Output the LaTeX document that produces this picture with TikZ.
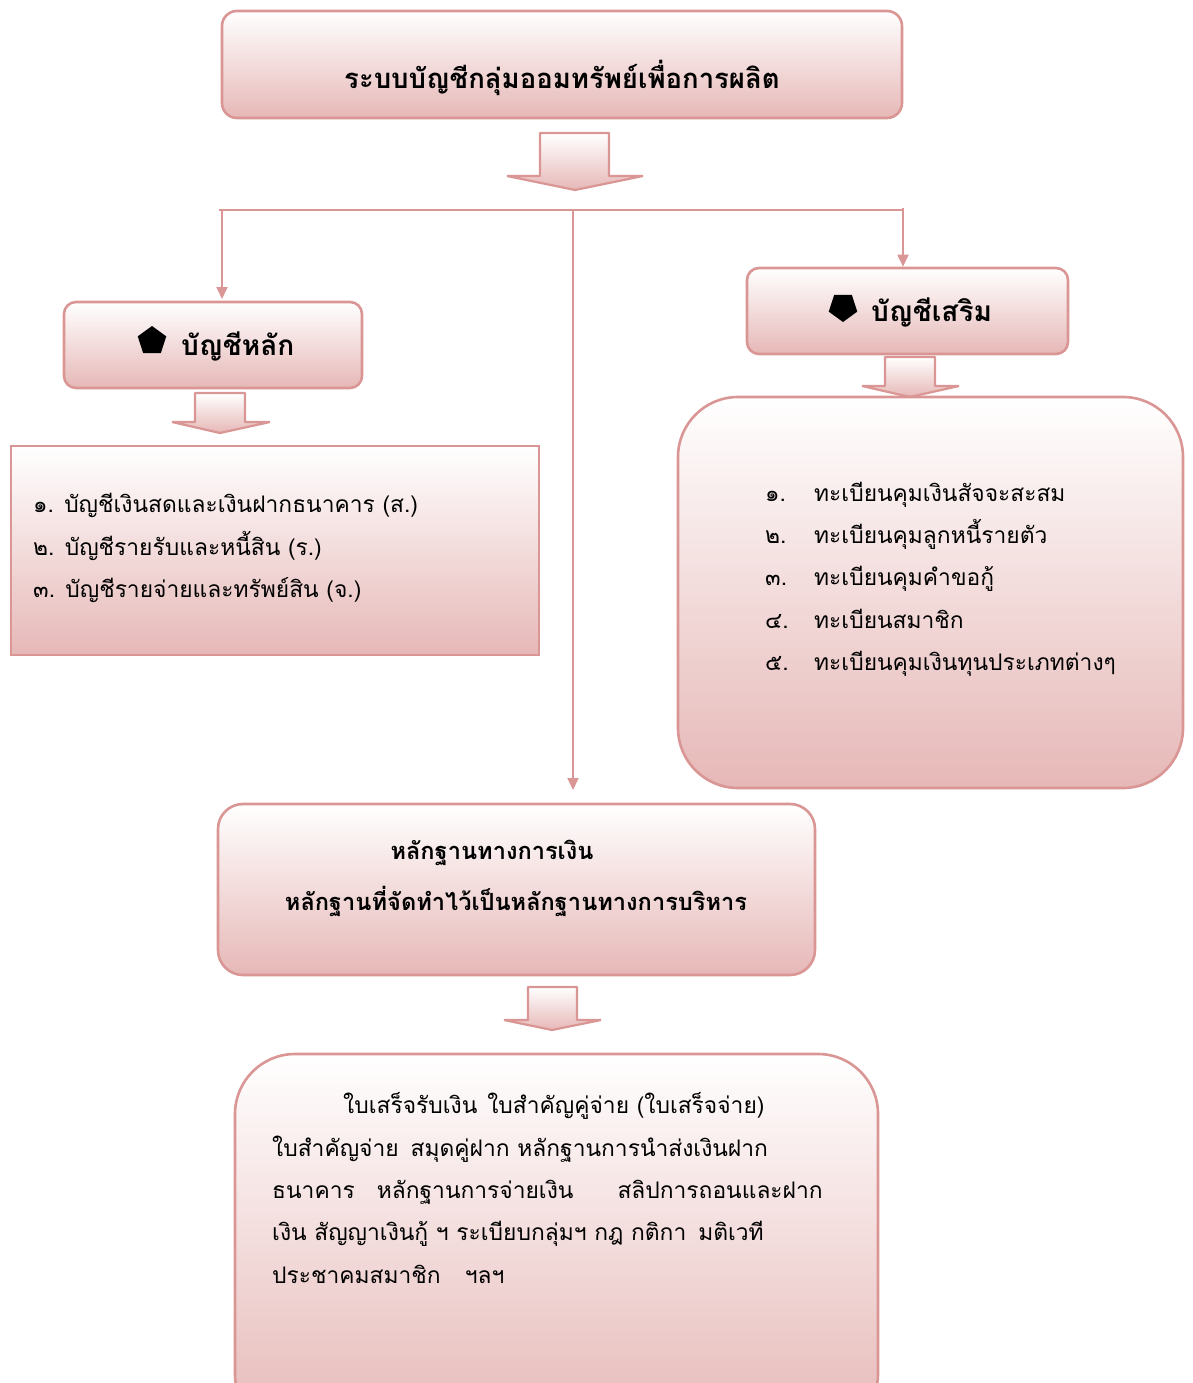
\documentclass[tikz,border=0pt]{standalone}
\usepackage{fontspec}
\newfontfamily\thai[Script=Thai]{Loma}
\usetikzlibrary{shapes.geometric,arrows.meta}
\definecolor{edgec}{RGB}{217,150,148}
\definecolor{fillc}{RGB}{230,184,183}
\tikzset{
  boxr/.style={draw=edgec, line width=2.6pt, top color=white, bottom color=fillc, inner sep=0pt},
  barrow/.style={draw=edgec, line width=2.2pt, line join=bevel, top color=white, bottom color=fillc},
  conn/.style={draw=edgec, line width=1.8pt},
  tipa/.style={-{Triangle[width=11pt,length=12pt]}},
  body/.style={font=\thai\fontsize{22.8}{26}\selectfont, inner sep=0pt, anchor=base west},
  head/.style={font=\thai\bfseries\fontsize{27.5}{30}\selectfont, inner sep=0pt, anchor=base},
  headm/.style={font=\thai\bfseries\fontsize{23.6}{28}\selectfont, inner sep=0pt, anchor=base},
  headw/.style={font=\thai\bfseries\fontsize{28}{30}\selectfont, inner sep=0pt, anchor=base west},
  penta/.style={regular polygon, regular polygon sides=5, fill=black, inner sep=0pt, minimum size=30pt},
}
\begin{document}
\begin{tikzpicture}[x=1pt,y=-1pt]
\useasboundingbox (0,0) rectangle (1192,1383);
% title
\node[boxr, rounded corners=15pt, minimum width=680pt, minimum height=107pt] (title) at (562,64.5) {};
\node[head] (titlet) at (562,89) {ระบบบัญชีกลุ่มออมทรัพย์เพื่อการผลิต};
\draw[barrow] (540,133) -- (609,133) -- (609,176) -- (643,176) -- (575,190) -- (507,176) -- (540,176) -- cycle;
% bus
\coordinate (busL) at (219,210);
\coordinate (busR) at (904,210);
\coordinate (busM) at (573,210);
\coordinate (busLd) at (222,210);
\coordinate (busRd) at (903,208);
\coordinate (midEnd) at (573,790);
\draw[conn] (busL) -- (busR);
% main accounts
\node[boxr, rounded corners=12pt, minimum width=298pt, minimum height=86pt] (mainb) at (213,345) {};
\node[penta] (p1) at (152,341) {};
\node[headw] (maint) at (181,355) {บัญชีหลัก};
\draw[conn,tipa] (busLd) -- (busLd |- 0,299) coordinate (mainTip);
% supplementary
\node[boxr, rounded corners=12pt, minimum width=321pt, minimum height=86pt] (supb) at (907.5,311) {};
\node[penta, shape border rotate=180] (p2) at (843,307) {};
\node[headw] (supt) at (871,321) {บัญชีเสริม};
\draw[conn,tipa] (busRd) -- (busRd |- supb.north);
% middle line
\draw[conn,tipa] (busM) -- (midEnd);
% arrow under main
\draw[barrow] (195,393) -- (245,393) -- (245,422) -- (270,422) -- (220,433) -- (172,422) -- (195,422) -- cycle;
% left list
\node[boxr, minimum width=528pt, minimum height=209pt] (leftb) at (275,550.5) {};
\node[body] (l1) at (33,512) {๑. บัญชีเงินสดและเงินฝากธนาคาร (ส.)};
\node[body] (l2) at (33,555) {๒. บัญชีรายรับและหนี้สิน (ร.)};
\node[body] (l3) at (33,597) {๓. บัญชีรายจ่ายและทรัพย์สิน (จ.)};
% arrow under supplementary
\draw[barrow] (885,357) -- (935,357) -- (935,386) -- (959,386) -- (910,397) -- (862,386) -- (885,386) -- cycle;
% right list
\node[boxr, rounded corners=60pt, minimum width=505pt, minimum height=391pt] (rightb) at (930.5,592.5) {};
\node[body] (r1n) at (765,501) {๑.};
\node[body] (r2n) at (765,543) {๒.};
\node[body] (r3n) at (765,585) {๓.};
\node[body] (r4n) at (765,628) {๔.};
\node[body] (r5n) at (765,670) {๕.};
\node[body] (r1t) at (814,501) {ทะเบียนคุมเงินสัจจะสะสม};
\node[body] (r2t) at (814,543) {ทะเบียนคุมลูกหนี้รายตัว};
\node[body] (r3t) at (814,585) {ทะเบียนคุมคำขอกู้};
\node[body] (r4t) at (814,628) {ทะเบียนสมาชิก};
\node[body] (r5t) at (814,670) {ทะเบียนคุมเงินทุนประเภทต่างๆ};
% middle box
\node[boxr, rounded corners=25pt, minimum width=597pt, minimum height=171pt] (midb) at (516.5,889.5) {};
\node[headm] (m1) at (492,859) {หลักฐานทางการเงิน};
\node[headm] (m2) at (516,910) {หลักฐานที่จัดทำไว้เป็นหลักฐานทางการบริหาร};
\draw[barrow] (528,987) -- (577,987) -- (577,1020) -- (601,1020) -- (552,1030) -- (504,1020) -- (528,1020) -- cycle;
% bottom box
\node[boxr, rounded corners=60pt, minimum width=643pt, minimum height=380pt] (botb) at (556.5,1244) {};
\node[body] (b1) at (343,1113) {ใบเสร็จรับเงิน\hspace{10pt}ใบสำคัญคู่จ่าย (ใบเสร็จจ่าย)};
\node[body] (b2) at (272,1156) {ใบสำคัญจ่าย\hspace{12pt}สมุดคู่ฝาก หลักฐานการนำส่งเงินฝาก};
\node[body] (b3) at (272,1198) {ธนาคาร\hspace{22pt}หลักฐานการจ่ายเงิน\hspace{44pt}สลิปการถอนและฝาก};
\node[body] (b4) at (272,1240) {เงิน สัญญาเงินกู้ ฯ ระเบียบกลุ่มฯ กฎ กติกา\hspace{12pt}มติเวที};
\node[body] (b5) at (272,1283) {ประชาคมสมาชิก\hspace{24pt}ฯลฯ};
\end{tikzpicture}
\end{document}
